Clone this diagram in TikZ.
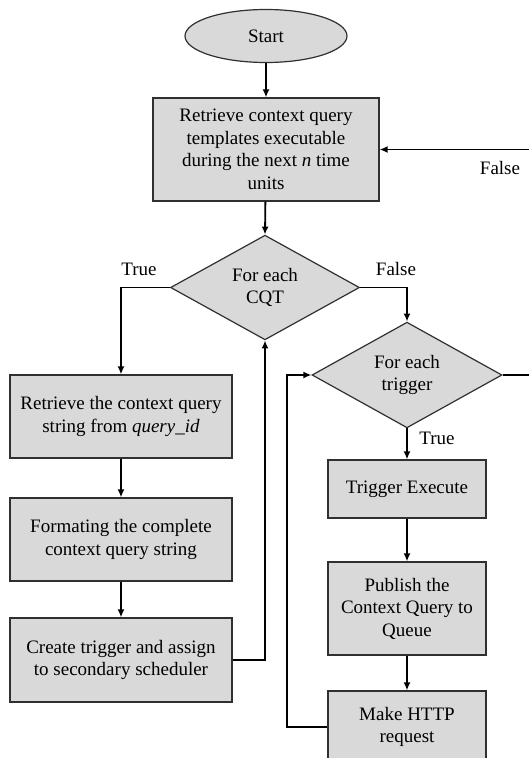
\documentclass[tikz,border=0pt]{standalone}
\usepackage{fontspec}
\setmainfont{Liberation Serif}
\usetikzlibrary{shapes.geometric,arrows.meta}
\definecolor{boxfill}{HTML}{D9D9D9}
\definecolor{boxline}{HTML}{303030}
\tikzset{
  base/.style={fill=boxfill, draw=boxline, line width=1.2pt, inner sep=0pt, align=center,
               font=\fontsize{19}{22.5}\selectfont},
  procbox/.style={base, rectangle},
  decision/.style={base, diamond},
  terminal/.style={base, ellipse},
  lbl/.style={inner sep=0pt, font=\fontsize{19}{22.5}\selectfont},
  conn/.style={line width=1.8pt, -{Latex[length=8pt,width=7pt]}},
  plain/.style={line width=1.8pt}
}
\begin{document}
\begin{tikzpicture}[x=1pt,y=-1pt]
\useasboundingbox (0,0) rectangle (529,758);
\node[terminal, minimum width=162pt, minimum height=53pt] (start) at (266,36) {Start};
\node[procbox, minimum width=226pt, minimum height=103pt] (b1) at (266,149.5)
  {Retrieve context query\\templates executable\\during the next \textit{n} time\\units};
\node[decision, minimum width=189pt, minimum height=101pt] (d1) at (265,287.5) {For each\\CQT};
\node[decision, minimum width=190pt, minimum height=100pt] (d2) at (407,375) {For each\\trigger};
\node[procbox, minimum width=222pt, minimum height=83pt] (b2) at (121,416.5)
  {Retrieve the context query\\string from \textit{query\_id}};
\node[procbox, minimum width=222pt, minimum height=83pt] (b3) at (121,539.5)
  {Formating the complete\\context query string};
\node[procbox, minimum width=222pt, minimum height=84pt] (b4) at (121,660)
  {Create trigger and assign\\to secondary scheduler};
\node[procbox, minimum width=158pt, minimum height=58pt] (te) at (407,489) {Trigger Execute};
\node[procbox, minimum width=158pt, minimum height=93pt] (pub) at (407,608.5)
  {Publish the\\Context Query to\\Queue};
\node[procbox, minimum width=158pt, minimum height=72pt] (http) at (407,727)
  {Make HTTP\\request};
\node[lbl] (t1) at (139,269) {True};
\node[lbl] (f1) at (396,269) {False};
\node[lbl] (f2) at (500,168) {False};
\node[lbl] (t2) at (437,438) {True};
\coordinate (rin) at (529,149.5);
\coordinate (rout) at (529,375);
\coordinate (lp) at (287,375);
\draw[conn] (start) -- (b1);
\draw[conn] (rin) -- (b1.east);
\draw[conn] (b1) -- (d1.north);
\draw[conn] (d1.west) -| (b2.north);
\draw[conn] (d1.east) -| (d2.north);
\draw[plain] (d2.east) -- (rout);
\draw[conn] (d2.south) -- (te.north);
\draw[conn] (te) -- (pub);
\draw[conn] (pub) -- (http);
\draw[conn] (http.west) -| (lp) -- (d2.west);
\draw[conn] (b2) -- (b3);
\draw[conn] (b3) -- (b4);
\draw[conn] (b4.east) -| (d1.south);
\end{tikzpicture}
\end{document}
